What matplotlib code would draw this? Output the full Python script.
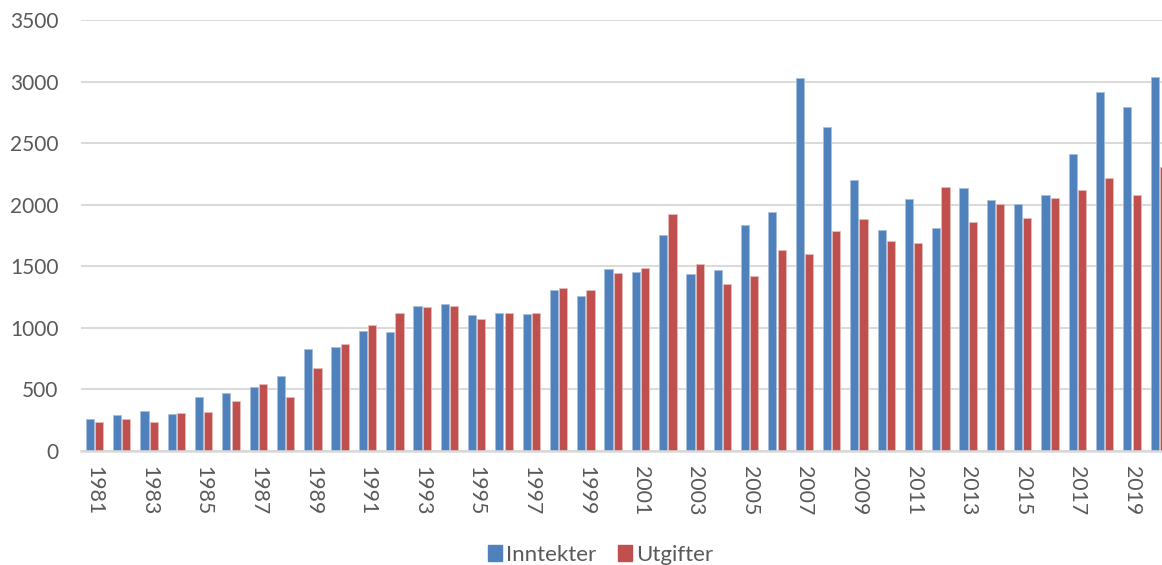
import numpy as np
import matplotlib
matplotlib.use("Agg")
import matplotlib.pyplot as plt
from matplotlib.patches import Patch

plt.rcParams['font.family'] = ['Lato', 'DejaVu Sans']

# --- Data (lest av bildet) ---
years = list(range(1981, 2021))
inntekter = [260, 290, 322, 297, 440, 468, 519, 611, 830, 841,
             977, 963, 1180, 1196, 1101, 1123, 1112, 1309, 1258, 1475,
             1450, 1751, 1439, 1466, 1832, 1943, 3031, 2633, 2197, 1791,
             2043, 1813, 2135, 2038, 2008, 2081, 2411, 2912, 2790, 3034]
utgifter = [238, 260, 233, 305, 316, 403, 543, 440, 671, 868,
            1025, 1123, 1169, 1174, 1074, 1117, 1117, 1326, 1309, 1445,
            1483, 1921, 1518, 1358, 1423, 1632, 1602, 1783, 1881, 1705,
            1688, 2146, 1862, 2003, 1892, 2051, 2122, 2214, 2081, 2306]
yticks = [0, 500, 1000, 1500, 2000, 2500, 3000, 3500]

blue = "#4F81BD"
red = "#C0504D"
grid_col = "#D9D9D9"
text_col = "#595959"

W, H = 1162, 565
fig = plt.figure(figsize=(W / 100, H / 100), dpi=100)
ax = fig.add_axes([80.8 / W, (H - 451) / H, 1 - 80.8 / W, 431 / H])

x = np.arange(len(years))
bw = 0.3
ax.bar(x - 0.02 - bw / 2, inntekter, width=bw, color=blue,
       edgecolor="#A7BFDE", linewidth=0.6, zorder=3)
ax.bar(x + 0.02 + bw / 2, utgifter, width=bw, color=red,
       edgecolor="#E6B9B8", linewidth=0.6, zorder=3)

ax.set_xlim(-0.5, 39.1)
ax.set_ylim(0, 3500)
ax.set_yticks(yticks)
ax.set_xticks(x[::2])
ax.set_xticklabels([str(y) for y in years[::2]], rotation=270,
                   fontsize=15.3, color=text_col)
ax.tick_params(axis='x', length=0, pad=11)
ax.tick_params(axis='y', length=0, pad=16, labelsize=15, labelcolor=text_col)

ax.grid(axis='y', color=grid_col, linewidth=1.4, zorder=0)
for s in ['top', 'right', 'left']:
    ax.spines[s].set_visible(False)
ax.spines['bottom'].set_color(grid_col)
ax.spines['bottom'].set_linewidth(1.8)
ax.spines['bottom'].set_zorder(4)

handles = [Patch(color=blue, label="Inntekter"), Patch(color=red, label="Utgifter")]
fig.legend(handles=handles, loc='center', bbox_to_anchor=(0.517, 1 - 555 / H),
           ncol=2, frameon=False, fontsize=16, handlelength=0.6,
           handleheight=0.7, handletextpad=0.2, columnspacing=1.0,
           labelcolor=text_col)

fig.savefig("out.png", dpi=100)
